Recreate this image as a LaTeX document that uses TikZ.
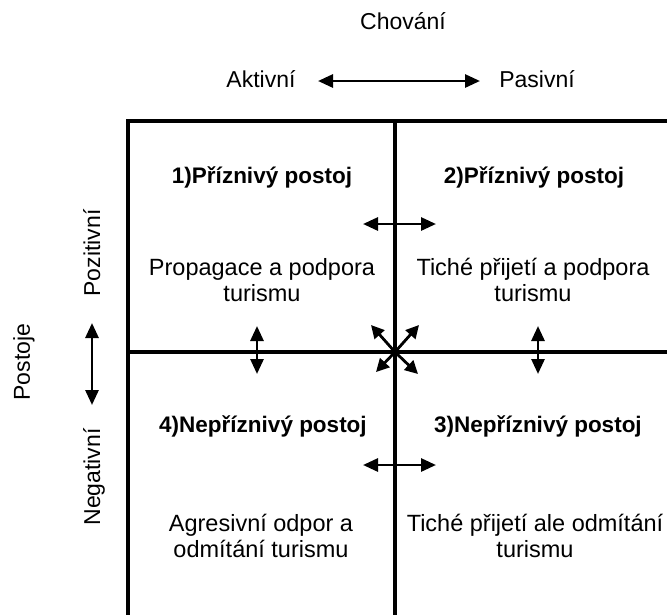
\documentclass[tikz,border=0pt]{standalone}
\usepackage{fontspec}
\setmainfont{Liberation Sans}
\usetikzlibrary{arrows.meta}
\tikzset{
  frame/.style={line width=4pt, line cap=rect},
  dbl/.style={line width=2.8pt, {Triangle[length=15pt,width=13pt]}-{Triangle[length=15pt,width=13pt]}},
  sarr/.style={line width=2.8pt, -{Triangle[length=13pt,width=13pt]}},
  lbl/.style={inner sep=0pt, anchor=base, font=\fontsize{23}{26}\selectfont},
  head/.style={lbl, font=\fontsize{22.5}{26}\selectfont\bfseries},
  body/.style={lbl, align=center, font=\fontsize{23.5}{26}\selectfont},
}
\begin{document}
\begin{tikzpicture}[x=1pt, y=-1pt]
\useasboundingbox (0,0) rectangle (667,614);
% frame
\coordinate (tl) at (128,121);
\coordinate (tr) at (669,121);
\coordinate (bl) at (128,616);
\coordinate (mt) at (395,121);
\coordinate (mb) at (395,616);
\coordinate (ml) at (128,352);
\coordinate (mr) at (669,352);
\coordinate (c) at (395,352);
\draw[frame] (bl) -- (tl) -- (tr);
\draw[frame] (mt) -- (mb);
\draw[frame] (ml) -- (mr);

% top labels
\node[lbl] (chov) at (403,29) {Chování};
\node[lbl] (akt) at (261,87) {Aktivní};
\node[lbl] (pas) at (537,87) {Pasivní};
\coordinate (a1) at (318,81);
\coordinate (a2) at (480,81);
\draw[dbl] (a1) -- (a2);

% left labels
\node[lbl, rotate=90] (post) at (30,362) {Postoje};
\node[lbl, rotate=90] (poz) at (100,253) {Pozitivní};
\node[lbl, rotate=90] (neg) at (100,477) {Negativní};
\coordinate (v1) at (92,323);
\coordinate (v2) at (92,405);
\draw[dbl] (v1) -- (v2);

% quadrant headings
\node[head] (h1) at (262,183) {1)Příznivý postoj};
\node[head] (h2) at (534,183) {2)Příznivý postoj};
\node[head] (h4) at (263,432) {4)Nepříznivý postoj};
\node[head] (h3) at (538,432) {3)Nepříznivý postoj};

% quadrant texts
\node[body] (t1) at (262,301) {Propagace a podpora\\turismu};
\node[body] (t2) at (533,301) {Tiché přijetí a podpora\\turismu};
\node[body] (t4) at (261,557) {Agresivní odpor a\\odmítání turismu};
\node[body] (t3) at (535,557) {Tiché přijetí ale odmítání\\turismu};

% small arrows
\coordinate (u1) at (363,224);
\coordinate (u2) at (436,224);
\draw[dbl] (u1) -- (u2);
\coordinate (d1) at (363,465);
\coordinate (d2) at (436,465);
\draw[dbl] (d1) -- (d2);
\coordinate (l1) at (257,326);
\coordinate (l2) at (257,374);
\draw[dbl] (l1) -- (l2);
\coordinate (r1) at (538,326);
\coordinate (r2) at (538,374);
\draw[dbl] (r1) -- (r2);

% centre star
\coordinate (nw) at (371,325);
\coordinate (ne) at (419,325);
\coordinate (sw) at (376,372);
\coordinate (se) at (418,374);
\draw[sarr] (c) -- (nw);
\draw[sarr] (c) -- (ne);
\draw[sarr] (c) -- (sw);
\draw[sarr] (c) -- (se);
\end{tikzpicture}
\end{document}
